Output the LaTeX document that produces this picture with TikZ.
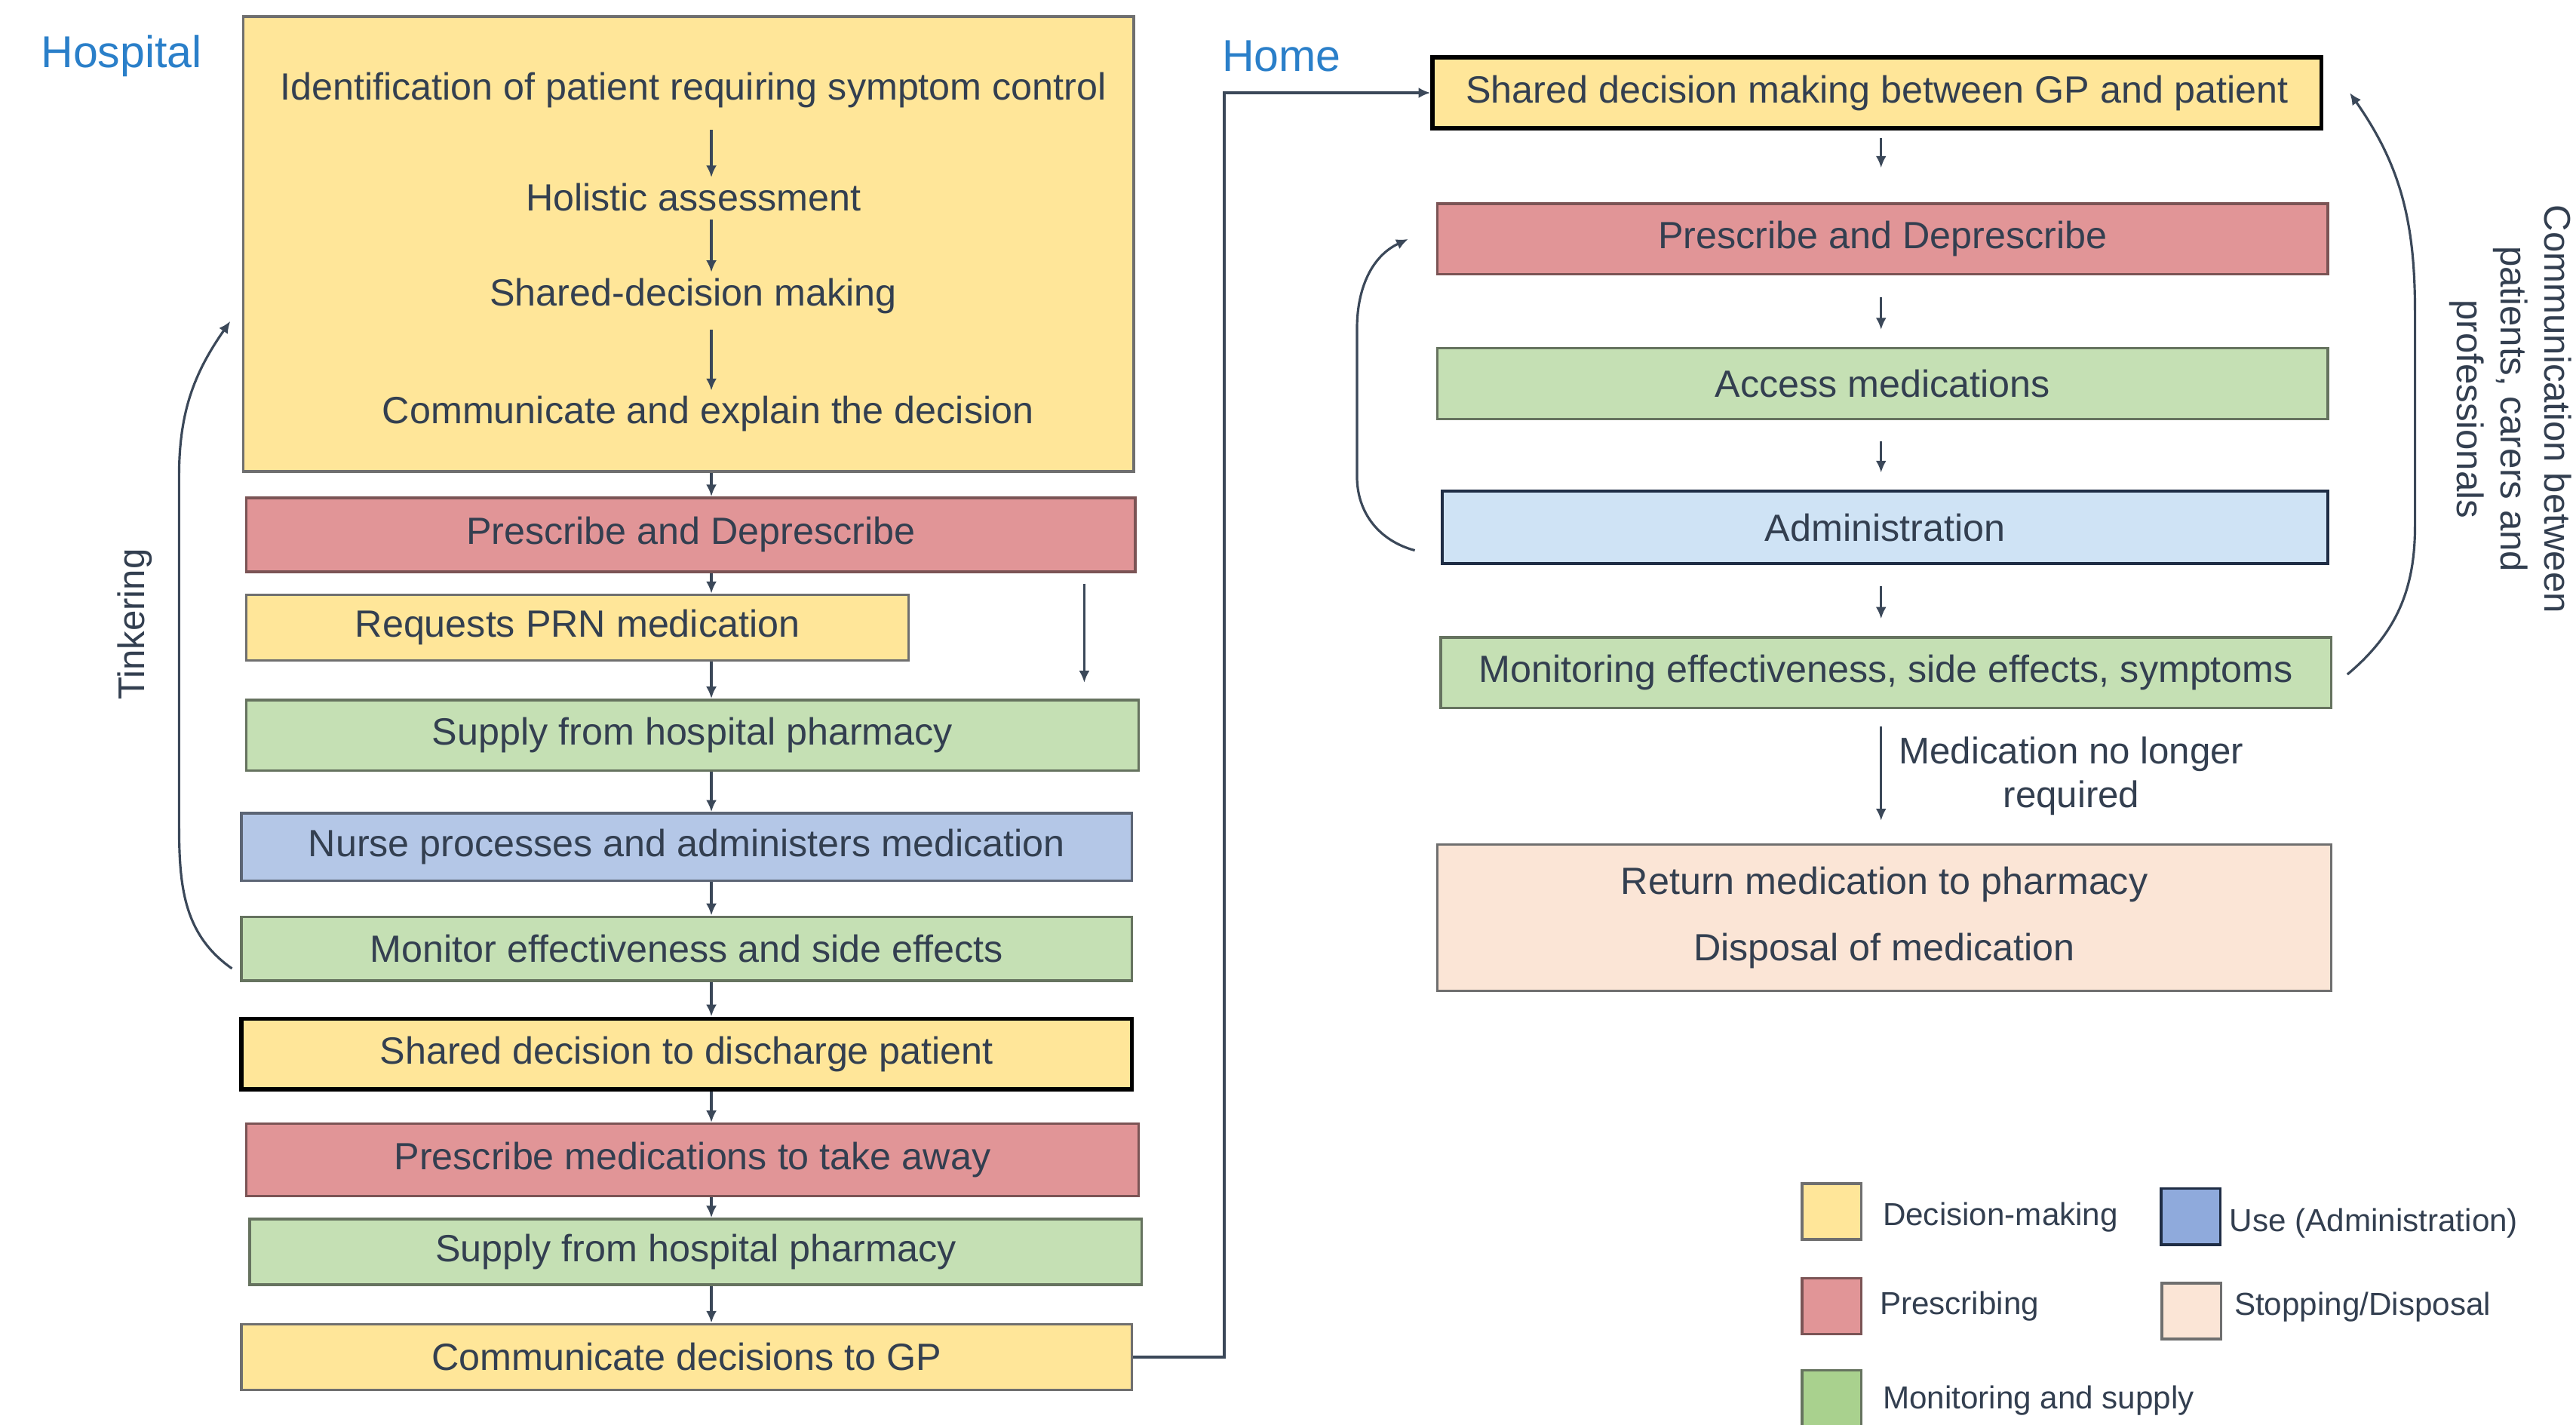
\documentclass[tikz,border=0pt]{standalone}
\usepackage{fontspec}
\setmainfont{Liberation Sans}
\usepackage{xcolor}
\usetikzlibrary{arrows.meta, positioning, calc}

\newcommand{\dpx}{0.02178cm}

\definecolor{decfill}{HTML}{FFE699}
\definecolor{presfill}{HTML}{E19597}
\definecolor{monfill}{HTML}{C5E0B4}
\definecolor{usefill}{HTML}{B4C7E7}
\definecolor{admfill}{HTML}{CFE3F5}
\definecolor{stopfill}{HTML}{FBE5D6}
\definecolor{legmon}{HTML}{A9D18E}
\definecolor{leguse}{HTML}{8FAADC}
\definecolor{txt}{HTML}{333F50}
\definecolor{placeblue}{HTML}{2A7FC9}
\definecolor{link}{HTML}{3B4859}
\definecolor{decline}{HTML}{6F6F6F}
\definecolor{presline}{HTML}{7B5455}
\definecolor{monline}{HTML}{66735F}
\definecolor{useline}{HTML}{5C6575}
\definecolor{admline}{HTML}{1F2D45}

\tikzset{
  box/.style={draw, line width=1pt, inner sep=2pt, align=center, text=txt,
              font=\fontsize{14.3}{17}\selectfont},
  sz/.style 2 args={minimum width=#1*\dpx, minimum height=#2*\dpx},
  decbox/.style={box, fill=decfill, draw=decline},
  presbox/.style={box, fill=presfill, draw=presline},
  monbox/.style={box, fill=monfill, draw=monline},
  usebox/.style={box, fill=usefill, draw=useline},
  admbox/.style={box, fill=admfill, draw=admline},
  stopbox/.style={box, fill=stopfill, draw=decline},
  keyline/.style={draw=black, line width=1.6pt},
  inner/.style={text=txt, inner sep=2pt, font=\fontsize{14.3}{17}\selectfont},
  note/.style={text=txt, font=\fontsize{14}{16.5}\selectfont},
  place/.style={text=placeblue, font=\fontsize{16.8}{20}\selectfont},
  arrow/.style={-{Latex[length=4.5pt,width=4pt]}, line width=0.9pt, draw=link},
  swatch/.style={draw, line width=1pt, minimum width=36*\dpx,
                 minimum height=34*\dpx, inner sep=0pt},
  legtext/.style={text=txt, inner sep=0pt, font=\fontsize{12}{14}\selectfont}
}

\begin{document}
\begin{tikzpicture}[x=\dpx, y=-\dpx]
  \useasboundingbox (0,0) rectangle (1568,867);

  % Hospital side
  \node[place] (hosp) at (74,34) {Hospital};
  \node[decbox, sz={542}{277}] (assess) at (419,148.5) {};
  \node[inner] (ident) at (422,55) {Identification of patient requiring symptom control};
  \node[inner] (holistic) at (422,120) {Holistic assessment};
  \node[inner] (sdm) at (422,180) {Shared-decision making};
  \node[inner] (explain) at (431,252) {Communicate and explain the decision};

  \node[presbox, sz={541}{45}] (presc1) at (420.5,325.5) {Prescribe and Deprescribe};
  \node[decbox, sz={403}{40}] (prn) at (351.5,382) {Requests PRN medication};
  \node[monbox, sz={543}{43}] (supply1) at (421.5,447.5) {Supply from hospital pharmacy};
  \node[usebox, sz={542}{41}] (nurse) at (418,515.5) {Nurse processes and administers medication};
  \node[monbox, sz={542}{39}] (mon1) at (418,577.5) {Monitor effectiveness and side effects};
  \node[decbox, keyline, sz={542}{43}] (discharge) at (418,641.5) {Shared decision to discharge patient};
  \node[presbox, sz={543}{44}] (takeaway) at (421.5,706) {Prescribe medications to take away};
  \node[monbox, sz={543}{40}] (supply2) at (423.5,762) {Supply from hospital pharmacy};
  \node[decbox, sz={542}{40}] (togp) at (418,826) {Communicate decisions to GP};

  \node[note, rotate=90] (tinker) at (82,380) {Tinkering};

  % Home side
  \node[place] (home) at (780,34) {Home};
  \node[decbox, keyline, sz={541}{43}] (gpdm) at (1142.5,56.5) {Shared decision making between GP and patient};
  \node[presbox, sz={542}{43}] (presc2) at (1146,145.5) {Prescribe and Deprescribe};
  \node[monbox, sz={542}{43}] (access) at (1146,233.5) {Access medications};
  \node[admbox, sz={539}{44}] (admin) at (1147.5,321) {Administration};
  \node[monbox, sz={542}{43}] (mon2) at (1148,409.5) {Monitoring effectiveness, side effects, symptoms};
  \node[stopbox, sz={544}{89}] (ret) at (1147,558.5) {Return medication to pharmacy\\[8pt]Disposal of medication};

  \node[note, rotate=-90, align=center] (comm) at (1528,249)
    {Communication between\\patients, carers and\\professionals};

  % Legend
  \node[swatch, fill=decfill, draw=decline] (kdec) at (1115,737.5) {};
  \node[legtext, right=0.26cm of kdec, yshift=-2pt] (kdectxt) {Decision-making};
  \node[swatch, fill=leguse, draw=admline] (kuse) at (1333.5,740.5) {};
  \node[legtext, right=0.1cm of kuse, yshift=-2.5pt] (kusetxt) {Use (Administration)};
  \node[swatch, fill=presfill, draw=presline] (kpres) at (1115,795) {};
  \node[legtext, right=0.22cm of kpres] (kprestxt) {Prescribing};
  \node[swatch, fill=stopfill, draw=decline] (kstop) at (1334,798) {};
  \node[legtext, right=0.15cm of kstop, yshift=1.5pt] (kstoptxt) {Stopping/Disposal};
  \node[swatch, fill=legmon, draw=monline] (kmon) at (1115,851) {};
  \node[legtext, right=0.26cm of kmon, yshift=-1pt] (kmontxt) {Monitoring and supply};

  % Arrows, hospital
  \coordinate (spine) at (433,0);
  \coordinate (skip) at (660,0);
  \draw[arrow, shorten <=6pt] (ident.south -| spine) -- (holistic.north -| spine);
  \draw[arrow, shorten <=1pt] (holistic.south -| spine) -- (sdm.north -| spine);
  \draw[arrow, shorten <=4pt] (sdm.south -| spine) -- (explain.north -| spine);
  \foreach \a/\b in {assess/presc1, presc1/prn, prn/supply1, supply1/nurse,
                     nurse/mon1, mon1/discharge, discharge/takeaway,
                     takeaway/supply2, supply2/togp}
    \draw[arrow] (\a.south -| spine) -- (\b.north -| spine);
  \draw[arrow, shorten <=4pt, shorten >=6pt] (presc1.south -| skip) -- (supply1.north -| skip);
  \draw[arrow] ($(mon1.west)+(-5,12)$) to[out=145, in=-90] (109,500)
    -- (109,290) to[out=90, in=235] ($(assess.west)+(-7,47)$);

  % Hospital to home
  \coordinate (hinge) at (745,0);
  \draw[arrow, line width=1.1pt] (togp.east) -| (hinge |- gpdm.west) -- (gpdm.west);

  % Arrows, home
  \coordinate (homespine) at (1145,0);
  \draw[arrow, shorten <=3pt, shorten >=13pt] (gpdm.south -| homespine) -- (presc2.north -| homespine);
  \foreach \a/\b in {presc2/access, access/admin, admin/mon2}
    \draw[arrow, shorten <=8pt, shorten >=6.5pt] (\a.south -| homespine) -- (\b.north -| homespine);
  \draw[arrow, shorten <=6.5pt, shorten >=8.5pt] (mon2.south -| homespine)
    -- node[note, right=3pt, align=center] (stoplbl) {Medication no longer\\required} (ret.north -| homespine);
  \draw[arrow] ($(admin.west)+(-16,14)$) to[out=165, in=-90] (826,290)
    -- (826,200) to[out=90, in=205] ($(presc2.west)+(-17,0)$);
  \draw[arrow] ($(mon2.east)+(9,1)$) to[out=40, in=-90] (1470,320)
    -- (1470,190) to[out=90, in=-55] ($(gpdm.east)+(16,0)$);
\end{tikzpicture}
\end{document}
